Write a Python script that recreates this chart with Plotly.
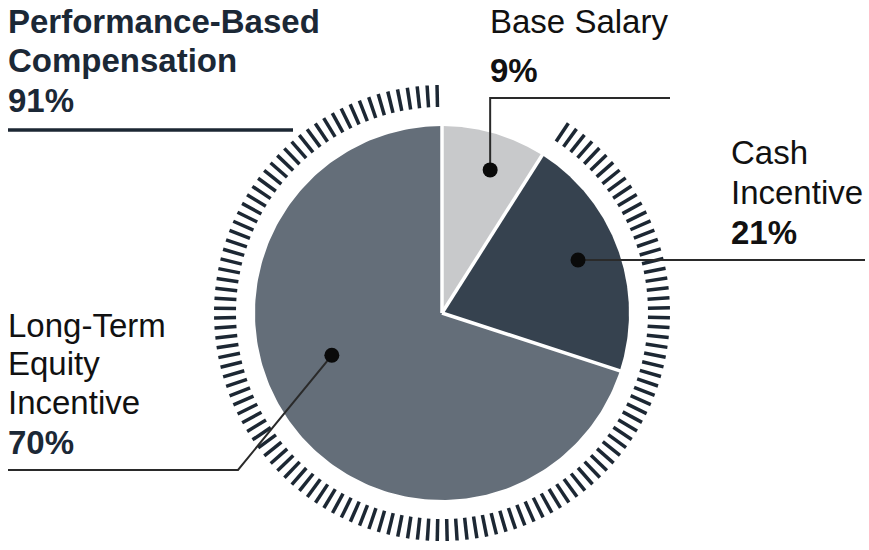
import numpy as np
import plotly.graph_objects as go

# ---- data ----
categories = ["Base Salary", "Cash Incentive", "Long-Term Equity Incentive"]
values = [9, 21, 70]
slice_colors = ["#c8c9cb", "#36424f", "#646e79"]
performance_label = "Performance-Based Compensation"
performance_value = 91  # cash incentive + long-term equity

# ---- layout constants (pixel space) ----
W, H = 869, 550
CX, CY, R = 442, 313, 187
RING_IN, RING_OUT = 206, 228
TICK_STEP = 2.5  # degrees
DOT_R = [151, 146, 118]
DOT_SHIFT = [2.4, -1.5, 15.0]  # degrees away from slice middle

def pt(theta_deg, r):
    t = np.radians(theta_deg)
    return CX + r * np.sin(t), CY - r * np.cos(t)

fig = go.Figure()

# pie slices
total = sum(values)
bounds = np.concatenate([[0], np.cumsum(values)]) / total * 360.0
for i, cat in enumerate(categories):
    a0, a1 = bounds[i], bounds[i + 1]
    th = np.linspace(a0, a1, 200)
    xs, ys = pt(th, R)
    fig.add_trace(go.Scatter(
        x=np.concatenate([[CX], xs, [CX]]), y=np.concatenate([[CY], ys, [CY]]),
        fill="toself", fillcolor=slice_colors[i], mode="lines",
        line=dict(width=0, color=slice_colors[i]), name=cat,
        hoverinfo="text", text=f"{cat}: {values[i]}%", showlegend=False))

# white separators
sx, sy = [], []
for a in bounds[:-1]:
    x1, y1 = pt(a, R + 1)
    sx += [CX, x1, None]
    sy += [CY, y1, None]
fig.add_trace(go.Scatter(x=sx, y=sy, mode="lines", line=dict(color="white", width=3.5),
                         hoverinfo="skip", showlegend=False))

# hatched ring for performance-based part
start = bounds[1]
n_ticks = int(round((360 - start) / TICK_STEP))
step = (360 - start) / n_ticks
tx, ty = [], []
for k in range(n_ticks):
    a = start + (k + 0.5) * step
    x0, y0 = pt(a, RING_IN)
    x1, y1 = pt(a, RING_OUT)
    tx += [x0, x1, None]
    ty += [y0, y1, None]
fig.add_trace(go.Scatter(x=tx, y=ty, mode="lines", line=dict(color="#1c2733", width=3.5),
                         hoverinfo="skip", showlegend=False))

# dots
mids = (bounds[:-1] + bounds[1:]) / 2
dots = [pt(m + s, r) for m, s, r in zip(mids, DOT_SHIFT, DOT_R)]
dx = [d[0] for d in dots]
dy = [d[1] for d in dots]

# leader lines
line_col = "#2a2a2a"
fig.add_trace(go.Scatter(x=[dx[0], dx[0], 670], y=[dy[0], 98, 98], mode="lines",
                         line=dict(color=line_col, width=2), hoverinfo="skip", showlegend=False))
fig.add_trace(go.Scatter(x=[dx[1], 865], y=[dy[1], dy[1]], mode="lines",
                         line=dict(color=line_col, width=2), hoverinfo="skip", showlegend=False))
fig.add_trace(go.Scatter(x=[dx[2], 238, 8], y=[dy[2], 470, 470], mode="lines",
                         line=dict(color=line_col, width=2), hoverinfo="skip", showlegend=False))
fig.add_trace(go.Scatter(x=[8, 293], y=[130, 130], mode="lines",
                         line=dict(color="#1c2733", width=3.5), hoverinfo="skip", showlegend=False))

fig.add_trace(go.Scatter(x=dx, y=dy, mode="markers",
                         marker=dict(color="#0a0a0a", size=15, line=dict(width=0)),
                         hoverinfo="skip", showlegend=False))

# labels
FONT = "Liberation Sans, Arial, sans-serif"
txt = "#111111"
navy = "#1b2836"
labels = [
    ("Performance-Based", 6, 21, True, navy),
    ("Compensation", 6, 60, True, navy),
    (f"{performance_value}%", 6, 100, True, navy),
    ("Base Salary", 488, 21, False, txt),
    (f"{values[0]}%", 488, 70, True, txt),
    ("Cash", 729, 152, False, txt),
    ("Incentive", 729, 192, False, txt),
    (f"{values[1]}%", 729, 232, True, txt),
    ("Long-Term", 6, 325, False, txt),
    ("Equity", 6, 363, False, txt),
    ("Incentive", 6, 402, False, txt),
    (f"{values[2]}%", 6, 442, True, navy),
]
for text, x, y, bold, col in labels:
    fig.add_annotation(x=x, y=y, xref="x", yref="y", text=f"<b>{text}</b>" if bold else text,
                       showarrow=False, xanchor="left", yanchor="middle",
                       font=dict(family=FONT, size=33, color=col))

fig.update_xaxes(range=[0, W], visible=False, fixedrange=True)
fig.update_yaxes(range=[H, 0], visible=False, fixedrange=True)
fig.update_layout(width=W, height=H, autosize=False, margin=dict(l=0, r=0, t=0, b=0),
                  paper_bgcolor="white", plot_bgcolor="white")

fig.write_html("out.html", config={"displayModeBar": False},
               post_script="document.body.style.margin='0';document.body.style.overflow='hidden';")
